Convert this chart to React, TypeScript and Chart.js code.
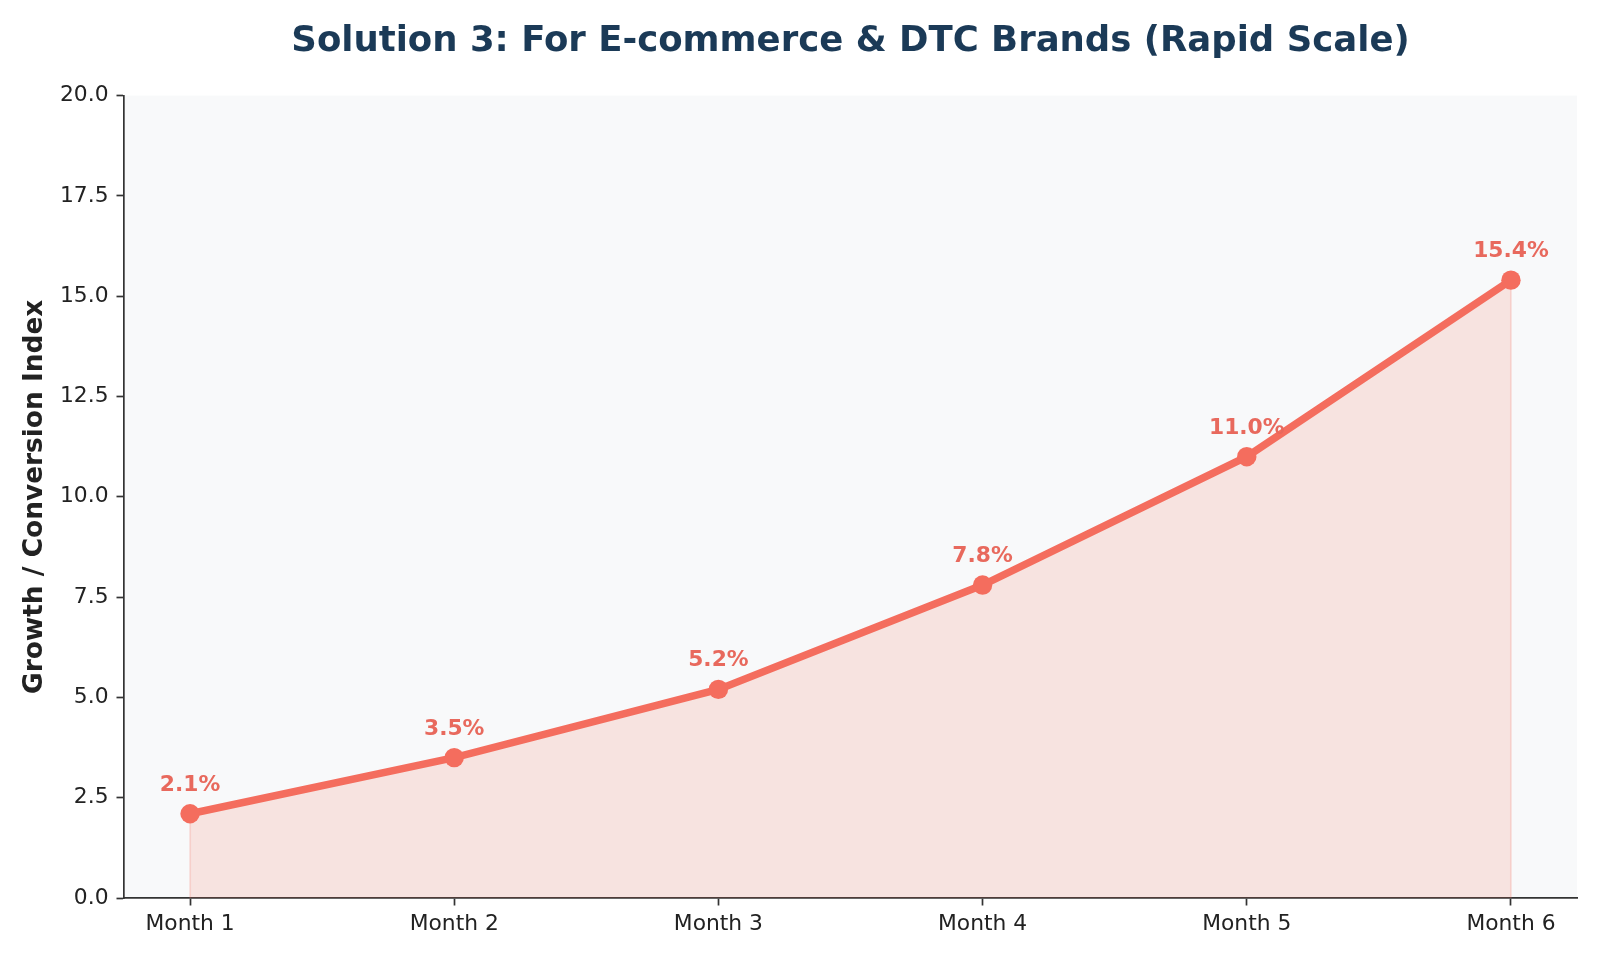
import React, { useEffect, useRef } from "react";
import { Chart, registerables } from "chart.js";

Chart.register(...registerables);

const months = ["Month 1", "Month 2", "Month 3", "Month 4", "Month 5", "Month 6"];
const growthValues = [2.1, 3.5, 5.2, 7.8, 11.0, 15.4];
const valueLabels = ["2.1%", "3.5%", "5.2%", "7.8%", "11.0%", "15.4%"];
const yTickValues = [0, 2.5, 5, 7.5, 10, 12.5, 15, 17.5, 20];
const titleText = "Solution 3: For E-commerce & DTC Brands (Rapid Scale)";
const yAxisTitle = "Growth / Conversion Index";

const FONT = "'DejaVu Sans', 'Noto Sans', sans-serif";
const LINE_COLOR = "#F46D5E";
const LABEL_COLOR = "#E8695D";
const FILL_COLOR = "rgba(244, 109, 94, 0.16)";
const EDGE_COLOR = "rgba(244, 109, 94, 0.18)";
const PLOT_BG = "#F8F9FA";
const SPINE = "#333333";
const TEXT = "#222222";

const plotBackground = {
  id: "plotBackground",
  beforeDraw(chart: any) {
    const { ctx, chartArea } = chart;
    if (!chartArea) return;
    ctx.save();
    ctx.fillStyle = "#ffffff";
    ctx.fillRect(0, 0, chart.width, chart.height);
    ctx.fillStyle = PLOT_BG;
    ctx.fillRect(chartArea.left, chartArea.top, chartArea.right - chartArea.left, chartArea.bottom - chartArea.top);
    ctx.restore();
  },
};

const fillEdges = {
  id: "fillEdges",
  beforeDatasetsDraw(chart: any) {
    const meta = chart.getDatasetMeta(0);
    if (!meta || !meta.data.length) return;
    const yScale = chart.scales.y;
    const base = yScale.getPixelForValue(0);
    const { ctx } = chart;
    ctx.save();
    ctx.strokeStyle = EDGE_COLOR;
    ctx.lineWidth = 2;
    [meta.data[0], meta.data[meta.data.length - 1]].forEach((pt: any) => {
      ctx.beginPath();
      ctx.moveTo(pt.x, pt.y);
      ctx.lineTo(pt.x, base);
      ctx.stroke();
    });
    ctx.restore();
  },
};

const valueLabelPlugin = {
  id: "valueLabels",
  afterDatasetsDraw(chart: any) {
    const meta = chart.getDatasetMeta(0);
    const { ctx } = chart;
    ctx.save();
    ctx.font = `bold 21.8px ${FONT}`;
    ctx.fillStyle = LABEL_COLOR;
    ctx.textAlign = "center";
    ctx.textBaseline = "alphabetic";
    meta.data.forEach((pt: any, i: number) => {
      ctx.fillText(valueLabels[i], pt.x, pt.y - 23);
    });
    ctx.restore();
  },
};

export default function App() {
  const canvasRef = useRef<HTMLCanvasElement | null>(null);

  useEffect(() => {
    document.body.style.margin = "0";
    const canvas = canvasRef.current;
    if (!canvas) return;
    const chart = new Chart(canvas, {
      type: "line",
      data: {
        datasets: [
          {
            data: growthValues.map((v, i) => ({ x: i, y: v })),
            borderColor: LINE_COLOR,
            borderWidth: 7.5,
            backgroundColor: FILL_COLOR,
            fill: "origin",
            tension: 0,
            pointRadius: 9.7,
            pointHoverRadius: 9.7,
            pointBackgroundColor: LINE_COLOR,
            pointBorderColor: LINE_COLOR,
            pointBorderWidth: 0,
          },
        ],
      },
      options: {
        animation: false,
        responsive: true,
        maintainAspectRatio: false,
        events: [],
        layout: { padding: { left: 0, right: 23, top: 0, bottom: 0 } },
        plugins: {
          legend: { display: false },
          tooltip: { enabled: false },
          title: {
            display: true,
            text: titleText,
            color: "#1B3A57",
            fullSize: false,
            font: { family: FONT, size: 35.5, weight: "bold", lineHeight: 1.2 },
            padding: { top: 20, bottom: 33 },
          },
        },
        scales: {
          x: {
            type: "linear",
            min: -0.25,
            max: 5.25,
            afterBuildTicks: (scale: any) => {
              scale.ticks = months.map((_, i) => ({ value: i }));
            },
            afterFit: (scale: any) => {
              scale.height = 62;
            },
            ticks: {
              autoSkip: false,
              maxRotation: 0,
              minRotation: 0,
              padding: 6,
              color: TEXT,
              font: { family: FONT, size: 21.8 },
              callback: (v: any) => months[Math.round(Number(v))] ?? "",
            },
            grid: {
              drawOnChartArea: false,
              drawTicks: true,
              tickLength: 7.5,
              tickWidth: 1.7,
              tickColor: SPINE,
            },
            border: { display: true, color: SPINE, width: 1.7 },
          },
          y: {
            type: "linear",
            position: "left",
            min: 0,
            max: 20,
            afterBuildTicks: (scale: any) => {
              scale.ticks = yTickValues.map((v) => ({ value: v }));
            },
            afterFit: (scale: any) => {
              scale.width = 124;
            },
            ticks: {
              padding: 8,
              color: TEXT,
              font: { family: FONT, size: 21.8 },
              callback: (v: any) => Number(v).toFixed(1),
            },
            grid: {
              drawOnChartArea: false,
              drawTicks: true,
              tickLength: 7.5,
              tickWidth: 1.7,
              tickColor: SPINE,
            },
            border: { display: true, color: SPINE, width: 1.7 },
            title: {
              display: true,
              text: yAxisTitle,
              color: TEXT,
              font: { family: FONT, size: 26.4, weight: "bold", lineHeight: 1.2 },
              padding: { top: 19, bottom: 0 },
            },
          },
        },
      },
      plugins: [plotBackground, fillEdges, valueLabelPlugin],
    } as any);
    return () => chart.destroy();
  }, []);

  return (
    <div style={{ position: "fixed", left: 0, top: 0, width: 1600, height: 960, background: "#ffffff" }}>
      <canvas ref={canvasRef} />
    </div>
  );
}
